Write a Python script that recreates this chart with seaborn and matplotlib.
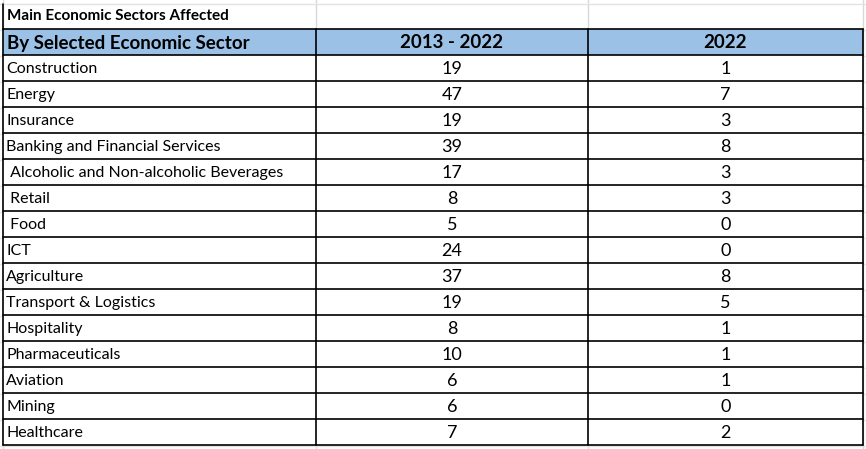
import matplotlib
matplotlib.use("Agg")
import matplotlib.pyplot as plt
import seaborn as sns

sns.set_theme(style="white", font="Lato", rc={"text.color": "black"})

title = "Main Economic Sectors Affected"
headers = ["By Selected Economic Sector", "2013 - 2022", "2022"]
sectors = ["Construction", "Energy", "Insurance", "Banking and Financial Services",
           " Alcoholic and Non-alcoholic Beverages", " Retail", " Food", "ICT",
           "Agriculture", "Transport & Logistics", "Hospitality", "Pharmaceuticals",
           "Aviation", "Mining", "Healthcare"]
total_2013_2022 = [19, 47, 19, 39, 17, 8, 5, 24, 37, 19, 8, 10, 6, 6, 7]
total_2022 = [1, 7, 3, 8, 3, 3, 0, 0, 8, 5, 1, 1, 1, 0, 2]

W, H = 866, 449
fig = plt.figure(figsize=(W / 100, H / 100), dpi=100)
ax = fig.add_axes([0, 0, 1, 1])
ax.set_xlim(0, W)
ax.set_ylim(H, 0)
ax.axis("off")

cols = [3, 316, 588, 863]
top_title, top_head, row_h = 4, 29, 26
body_top = 55
body_bot = body_top + row_h * len(sectors)

# faint spreadsheet gridlines
for x in cols:
    ax.plot([x, x], [0, H], color="#d9d9d9", lw=1, zorder=0)
for y in range(top_title, H, row_h):
    ax.plot([0, W], [y, y], color="#e3e3e3", lw=1, zorder=0)

ax.text(7, (top_title + top_head) / 2, title, fontsize=11, fontweight="bold",
        va="center", ha="left")

# header band
ax.add_patch(plt.Rectangle((cols[0], top_head), cols[-1] - cols[0], body_top - top_head,
                           facecolor="#9bc2e6", edgecolor="none", zorder=1))
hy = (top_head + body_top) / 2
ax.text(7, hy + 1, headers[0], fontsize=13.5, fontweight="bold", va="center", ha="left", zorder=3)
ax.text((cols[1] + cols[2]) / 2, hy + 1, headers[1], fontsize=13.5, fontweight="bold",
        va="center", ha="center", zorder=3)
ax.text((cols[2] + cols[3]) / 2, hy + 1, headers[2], fontsize=13.5, fontweight="bold",
        va="center", ha="center", zorder=3)

# body
for i, (s, a, b) in enumerate(zip(sectors, total_2013_2022, total_2022)):
    yc = body_top + row_h * i + row_h / 2
    ax.add_patch(plt.Rectangle((cols[0], yc - row_h / 2), cols[-1] - cols[0], row_h,
                               facecolor="white", edgecolor="none", zorder=1))
    ax.text(6, yc + 1, s, fontsize=11.5, va="center", ha="left", zorder=3)
    ax.text((cols[1] + cols[2]) / 2, yc + 1, str(a), fontsize=13, va="center", ha="center", zorder=3)
    ax.text((cols[2] + cols[3]) / 2, yc + 1, str(b), fontsize=13, va="center", ha="center", zorder=3)

# black borders
for y in [top_head] + [body_top + row_h * i for i in range(len(sectors) + 1)]:
    ax.plot([cols[0], cols[-1]], [y, y], color="black", lw=1.2, zorder=4)
for x in cols:
    ax.plot([x, x], [top_head, body_bot], color="black", lw=1.2, zorder=4)
ax.plot([cols[0], cols[0]], [top_title, top_head], color="black", lw=1.2, zorder=4)

fig.savefig("out.png", dpi=100)
